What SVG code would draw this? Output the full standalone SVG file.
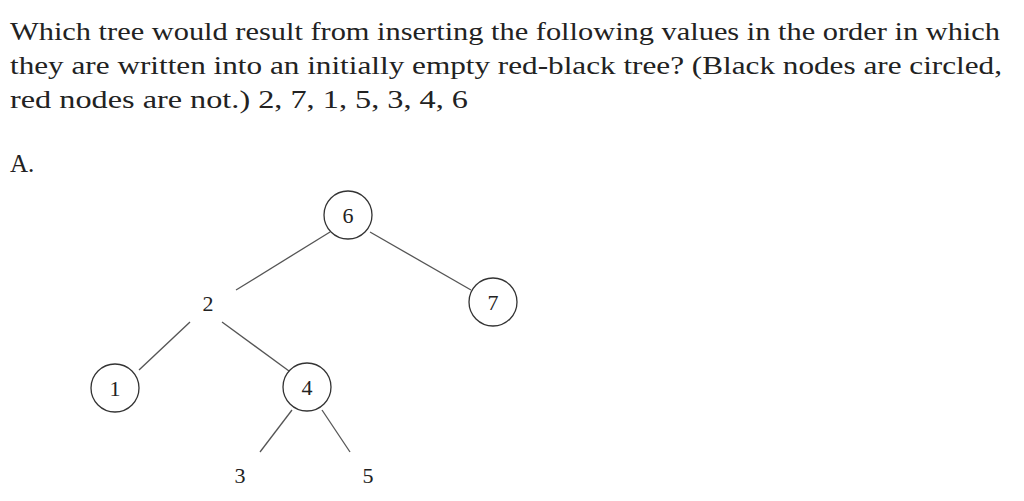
<svg xmlns="http://www.w3.org/2000/svg" width="1024" height="501" viewBox="0 0 1024 501">
<style>
text{font-family:"Liberation Serif","DejaVu Serif",serif;font-size:25px;fill:#222}
.n{text-anchor:middle;font-size:22px}
circle{fill:#fff;stroke:#333;stroke-width:1.3}
line{stroke:#555;stroke-width:1.3}
</style>
<rect width="1024" height="501" fill="#fff"/>
<text x="10" y="40" textLength="990" lengthAdjust="spacingAndGlyphs">Which tree would result from inserting the following values in the order in which</text>
<text x="10" y="74" textLength="992" lengthAdjust="spacingAndGlyphs">they are written into an initially empty red-black tree? (Black nodes are circled,</text>
<text x="10" y="108" textLength="458" lengthAdjust="spacingAndGlyphs">red nodes are not.) 2, 7, 1, 5, 3, 4, 6</text>
<text x="10" y="172">A.</text>
<g id="connectors">
<line x1="330" y1="232" x2="236" y2="290"/>
<line x1="370" y1="232" x2="471" y2="290"/>
<line x1="190" y1="322" x2="139" y2="370"/>
<line x1="222" y1="322" x2="289" y2="371"/>
<line x1="292" y1="410" x2="260" y2="452"/>
<line x1="322" y1="410" x2="350" y2="452"/>
</g>
<g id="n6"><circle cx="348" cy="215" r="24"/><text class="n" x="348" y="223">6</text></g>
<g id="n7"><circle cx="493" cy="302" r="24"/><text class="n" x="493" y="310">7</text></g>
<g id="n2"><text class="n" x="208" y="311">2</text></g>
<g id="n1"><circle cx="115" cy="388" r="24"/><text class="n" x="115" y="396">1</text></g>
<g id="n4"><circle cx="307" cy="387" r="24"/><text class="n" x="307" y="395">4</text></g>
<g id="n3"><text class="n" x="240" y="483">3</text></g>
<g id="n5"><text class="n" x="368" y="483">5</text></g>
</svg>
